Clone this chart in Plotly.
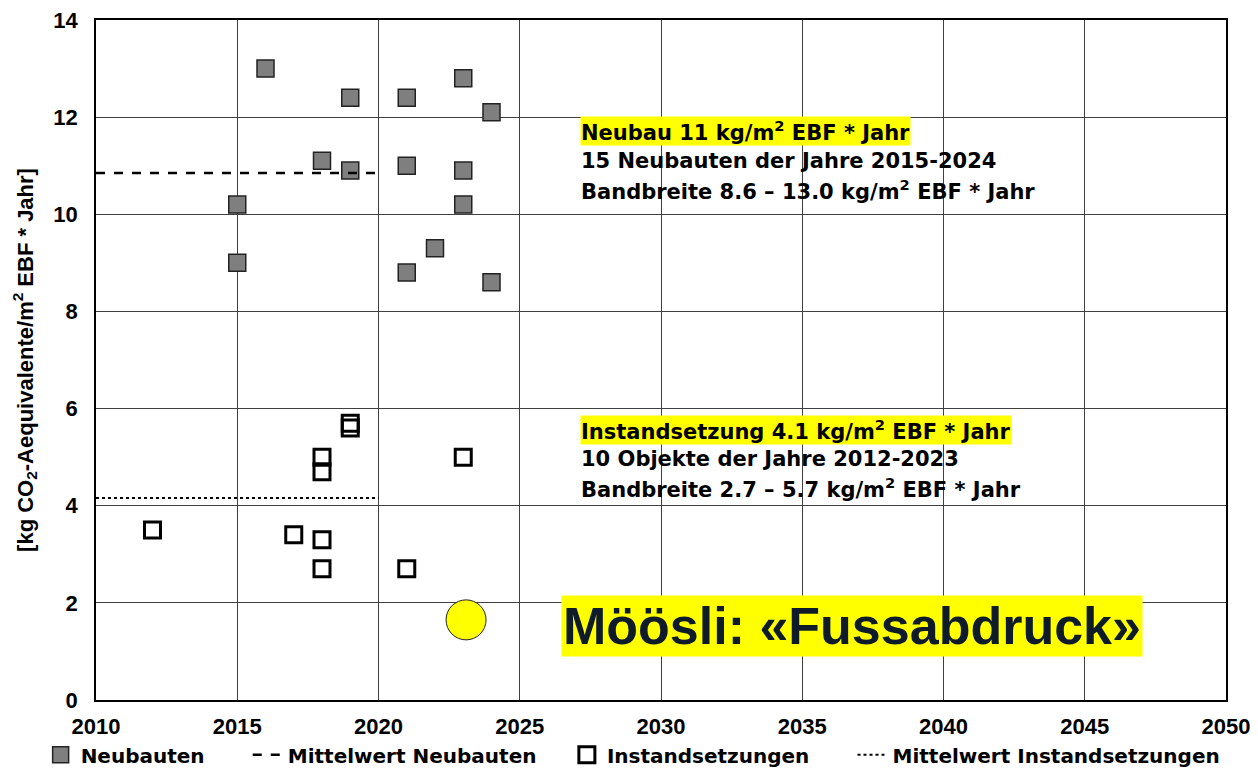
import plotly.graph_objects as go

# Neubauten (new buildings)
neu_years = [2016, 2019, 2021, 2023, 2024, 2018, 2019, 2021, 2023, 2015, 2023, 2022, 2015, 2021, 2024]
neu_values = [13.0, 12.4, 12.4, 12.8, 12.1, 11.1, 10.9, 11.0, 10.9, 10.2, 10.2, 9.3, 9.0, 8.8, 8.6]
neu_mean = 10.85

# Instandsetzungen (renovations)
inst_years = [2019, 2019, 2018, 2018, 2023, 2012, 2017, 2018, 2018, 2021]
inst_values = [5.7, 5.6, 5.0, 4.7, 5.0, 3.5, 3.4, 3.3, 2.7, 2.7]
inst_mean = 4.16

mean_x = [2010, 2020]

moosli_year = [2023.1]
moosli_value = [1.65]

x_ticks = [2010, 2015, 2020, 2025, 2030, 2035, 2040, 2045, 2050]
y_ticks = [0, 2, 4, 6, 8, 10, 12, 14]

FONT = "Liberation Sans, Arial, sans-serif"
WIDE = "DejaVu Sans, Liberation Sans, sans-serif"
PAD = "\u00a0"

fig = go.Figure()
fig.add_trace(go.Scatter(
    x=neu_years, y=neu_values, mode="markers", name="<b>Neubauten</b>" + PAD * 6,
    marker=dict(symbol="square", size=17, color="#7f7f7f", line=dict(color="#222222", width=1.5)),
))
fig.add_trace(go.Scatter(
    x=mean_x, y=[neu_mean, neu_mean], mode="lines", name="<b>Mittelwert Neubauten</b>" + PAD * 4,
    line=dict(color="black", width=2.5, dash="dash"),
))
fig.add_trace(go.Scatter(
    x=inst_years, y=inst_values, mode="markers", name="<b>Instandsetzungen</b>" + PAD * 6,
    marker=dict(symbol="square-open", size=16, color="black", line=dict(width=3)),
))
fig.add_trace(go.Scatter(
    x=mean_x, y=[inst_mean, inst_mean], mode="lines", name="<b>Mittelwert Instandsetzungen</b>",
    line=dict(color="black", width=2, dash="dot"),
))
fig.add_trace(go.Scatter(
    x=moosli_year, y=moosli_value, mode="markers", showlegend=False,
    marker=dict(symbol="circle", size=40, color="#ffff00", line=dict(color="#222222", width=1)),
))

ann_font = dict(family=WIDE, size=21, color="black")
anns = [
    dict(x=0.428, y=0.837, text="<b>Neubau 11 kg/m<sup>2</sup> EBF * Jahr</b>", bgcolor="#ffff00"),
    dict(x=0.428, y=0.793, text="<b>15 Neubauten der Jahre 2015-2024</b>", bgcolor=None),
    dict(x=0.428, y=0.750, text="<b>Bandbreite 8.6 – 13.0 kg/m<sup>2</sup> EBF * Jahr</b>", bgcolor=None),
    dict(x=0.428, y=0.397, text="<b>Instandsetzung 4.1 kg/m<sup>2</sup> EBF * Jahr</b>", bgcolor="#ffff00"),
    dict(x=0.428, y=0.354, text="<b>10 Objekte der Jahre 2012-2023</b>", bgcolor=None),
    dict(x=0.428, y=0.312, text="<b>Bandbreite 2.7 – 5.7 kg/m<sup>2</sup> EBF * Jahr</b>", bgcolor=None),
]
annotations = []
for a in anns:
    d = dict(xref="paper", yref="paper", x=a["x"], y=a["y"], text=a["text"], showarrow=False,
             xanchor="left", yanchor="middle", font=ann_font, borderpad=0)
    if a["bgcolor"]:
        d["bgcolor"] = a["bgcolor"]
    annotations.append(d)

annotations.append(dict(
    xref="paper", yref="paper", x=0.669, y=0.109, text="<b>Möösli: «Fussabdruck»</b>",
    showarrow=False, xanchor="center", yanchor="middle",
    font=dict(family=FONT, size=52, color="#0d1b2a"), bgcolor="#ffff00", borderpad=1,
))

fig.update_layout(
    width=1250, height=762,
    paper_bgcolor="white", plot_bgcolor="white",
    margin=dict(l=88, r=32, t=12, b=70, autoexpand=False),
    font=dict(family=FONT, color="black"),
    showlegend=True,
    legend=dict(orientation="h", x=-0.049, xanchor="left", y=-0.052, yanchor="top",
                font=dict(family=WIDE, size=20, color="black"),
                tracegroupgap=0, bgcolor="rgba(0,0,0,0)"),
    annotations=annotations,
    yaxis_title=dict(text="<b>[kg CO<sub>2</sub>-Aequivalente/m<sup>2</sup> EBF * Jahr]</b>",
                     font=dict(family=FONT, size=22), standoff=14),
)
fig.update_xaxes(
    range=[2010, 2050], tickvals=x_ticks, ticktext=[f"<b>{v}</b>" for v in x_ticks],
    tickfont=dict(family=FONT, size=22), showgrid=True, gridcolor="#404040", gridwidth=1.2,
    showline=True, linecolor="black", linewidth=1.5, mirror=True, zeroline=False, ticks="",
    ticklabelstandoff=6, automargin=False, ticklabeloverflow="allow",
)
fig.update_yaxes(
    range=[0, 14], tickvals=y_ticks, ticktext=[f"<b>{v}</b>" for v in y_ticks],
    tickfont=dict(family=FONT, size=22), showgrid=True, gridcolor="#404040", gridwidth=1.2,
    showline=True, linecolor="black", linewidth=1.5, mirror=True, zeroline=False, ticks="",
    ticklabelstandoff=12, automargin=False, ticklabeloverflow="allow",
)

fig.write_html("out.html")
